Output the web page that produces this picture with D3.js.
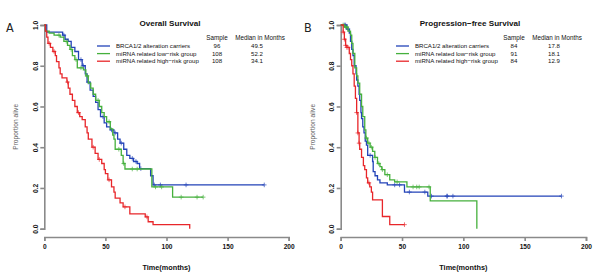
<!DOCTYPE html>
<html><head><meta charset="utf-8">
<script src="https://cdn.jsdelivr.net/npm/d3@7"></script>
<style>
body{margin:0;background:#fff;}
svg{display:block;font-family:"Liberation Sans",Arial,Helvetica,sans-serif;}
</style></head>
<body><svg id="c" width="600" height="277"></svg>
<script>
// ---------- DATA ----------
const xTicks = [0, 50, 100, 150, 200];
const yTicks = [0.0, 0.2, 0.4, 0.6, 0.8, 1.0];
const groupNames = ["BRCA1/2 alteration carriers", "miRNA related low\u2212risk group", "miRNA related high\u2212risk group"];
const groupColors = ["#2343b8", "#45b03c", "#e8262a"];

// Overall survival
const osTitle = "Overall Survival";
const osSamples = ["96", "108", "108"];
const osMedians = ["49.5", "52.2", "34.1"];
const osBlueT = [0,2,15,17,19.5,22,25,28,31,33.5,35,37.5,40,42,44,46,49,51,54,57,60,62,65,67.5,70,73,76,78,87,89];
const osBlueS = [1,0.965,0.95,0.93,0.92,0.89,0.87,0.83,0.80,0.76,0.72,0.68,0.65,0.62,0.585,0.55,0.52,0.50,0.485,0.47,0.44,0.42,0.39,0.36,0.345,0.33,0.32,0.295,0.26,0.215];
const osBlueEnd = 180;
const osBlueCens = [16,30,32,36,48,55,58,63,72,75,79,90,95,116,180];
const osGreenT = [0,1,4,8,13,16,19,21,23,25,27,32,34,36,38,40,42,45,47,49,51,54,56,57,58,63,64.5,66,88,105];
const osGreenS = [1,0.97,0.96,0.95,0.94,0.92,0.90,0.88,0.85,0.83,0.79,0.78,0.75,0.715,0.69,0.66,0.63,0.60,0.57,0.55,0.525,0.49,0.46,0.44,0.39,0.36,0.32,0.293,0.205,0.155];
const osGreenEnd = 130;
const osGreenCens = [12,18,22,26,30,35,44,53,61,65,72,76,91,96,112,125,130];
const osRedT = [0,1,2,3,5,7,9,10,12,13,14.5,18.5,19.6,21,23,25,27,29,31,33.5,35,36,39,41.6,44,47,49,50,52,55,57,58,62,64.5,70,82.6,85,89,119];
const osRedS = [1,0.97,0.94,0.91,0.89,0.87,0.85,0.82,0.79,0.76,0.74,0.72,0.69,0.66,0.63,0.60,0.57,0.55,0.535,0.50,0.47,0.44,0.40,0.37,0.34,0.32,0.29,0.27,0.24,0.205,0.18,0.15,0.127,0.107,0.073,0.058,0.034,0.02,0];
const osRedEnd = 119;
const osRedCens = [4,8,19,28,40,45,53,66,84];

// Progression-free survival
const pfsTitle = "Progression\u2212free Survival";
const pfsSamples = ["84", "91", "84"];
const pfsMedians = ["17.8", "18.1", "12.9"];
const pfsBlueT = [0,5,7,8,9,10,11,12.5,13,14,15,15.5,16.5,17,18,19,20,21,22,26,26.5,28,30,32,38,52,71];
const pfsBlueS = [1,0.98,0.96,0.92,0.88,0.85,0.80,0.76,0.73,0.70,0.66,0.63,0.57,0.54,0.50,0.47,0.43,0.41,0.36,0.33,0.28,0.26,0.24,0.225,0.215,0.18,0.16];
const pfsBlueEnd = 180;
const pfsBlueCens = [3,4,6,24,44,48,56,68.6,74,86.5,87,91.5,180];
const pfsGreenT = [0,3,6,8,9,10,11.5,13,14,15.5,17,18,19.6,20.5,22,24,26,27.8,30,32,33.5,36,40,44,54,73,111];
const pfsGreenS = [1,0.99,0.97,0.95,0.91,0.86,0.79,0.75,0.715,0.66,0.60,0.55,0.485,0.445,0.42,0.40,0.38,0.35,0.32,0.305,0.29,0.265,0.24,0.23,0.205,0.137,0];
const pfsGreenEnd = 111;
const pfsGreenCens = [2,4,5,21,23,25,28,31,34,38,46,59,62,64,72];
const pfsRedT = [0,2,3,4,5,7,8,9,10,11,12,13,14,15,15.5,17,18.5,19.6,21,22,23.7,25,26,34,40];
const pfsRedS = [1,0.965,0.93,0.90,0.89,0.86,0.83,0.80,0.76,0.70,0.64,0.57,0.47,0.42,0.39,0.35,0.31,0.29,0.25,0.225,0.205,0.18,0.142,0.06,0.02];
const pfsRedEnd = 52;
const pfsRedCens = [2,3,4,5,6,13,14,15,23,52];

// ---------- DRAW ----------
const svg = d3.select("#c");
const axisGray = "#8a8a8a";

function drawPanel(cfg) {
  const x = d3.scaleLinear().domain([0, 200]).range([cfg.x0, cfg.x1]);
  const y = d3.scaleLinear().domain([0, 1]).range([228.7, 25]);
  const g = svg.append("g");

  // panel letter
  g.append("text").attr("x", cfg.letterX).attr("y", 32).attr("font-size", 12.5)
    .attr("font-family", "DejaVu Sans Condensed, DejaVu Sans, sans-serif").attr("fill", "#222").text(cfg.letter);

  // x axis
  const xa = g.append("g").attr("transform", "translate(0,237)")
    .call(d3.axisBottom(x).tickValues(xTicks).tickSize(4).tickPadding(3).tickFormat(d3.format("d")));
  xa.select(".domain").attr("stroke", axisGray).attr("stroke-width", 1.6);
  xa.selectAll(".tick line").attr("stroke", axisGray).attr("stroke-width", 1.6);
  xa.selectAll(".tick text").attr("font-size", 6.6).attr("font-weight", "bold").attr("fill", "#111")
    .attr("font-family", "Liberation Sans, Arial, sans-serif");

  // y axis
  const ya = g.append("g").attr("transform", `translate(${cfg.x0},0)`)
    .call(d3.axisLeft(y).tickValues(yTicks).tickSize(4).tickFormat(d3.format(".1f")));
  ya.select(".domain").attr("stroke", axisGray).attr("stroke-width", 1.6);
  ya.selectAll(".tick line").attr("stroke", axisGray).attr("stroke-width", 1.6);
  ya.selectAll(".tick text").attr("font-size", 6.6).attr("font-weight", "bold").attr("fill", "#111")
    .attr("font-family", "Liberation Sans, Arial, sans-serif")
    .attr("text-anchor", "middle").attr("dy", null).attr("x", null)
    .attr("transform", "translate(-9,0) rotate(-90)").attr("dy", "0.35em");

  // axis titles
  g.append("text").attr("x", (x(0) + x(200)) / 2).attr("y", 269.5).attr("text-anchor", "middle")
    .attr("font-size", 7.3).attr("font-weight", "bold").attr("fill", "#111").text("Time(months)");
  g.append("text").attr("transform", `translate(${cfg.x0 - 26},${y(0.5)}) rotate(-90)`)
    .attr("text-anchor", "middle").attr("font-size", 6.6).attr("fill", "#666").text("Proportion alive");

  // title
  g.append("text").attr("x", cfg.titleX).attr("y", 26).attr("text-anchor", "middle")
    .attr("font-size", 8.1).attr("font-weight", "bold").attr("fill", "#111").text(cfg.title);

  // curves
  cfg.curves.forEach((c, i) => {
    const pts = [];
    for (let k = 0; k < c.t.length; k++) {
      if (k > 0) pts.push([c.t[k], c.s[k - 1]]);
      pts.push([c.t[k], c.s[k]]);
    }
    pts.push([c.end, c.s[c.s.length - 1]]);
    g.append("path").attr("d", d3.line().x(d => x(d[0])).y(d => y(d[1]))(pts))
      .attr("fill", "none").attr("stroke", groupColors[i]).attr("stroke-width", 1.3);
    const sAt = t => { let v = 1; for (let k = 0; k < c.t.length; k++) if (c.t[k] <= t) v = c.s[k]; return v; };
    c.cens.forEach(t => {
      const cx = x(t), cy = y(sAt(t));
      g.append("path").attr("d", `M${cx - 2.3},${cy}H${cx + 2.3}M${cx},${cy - 2.3}V${cy + 2.3}`)
        .attr("stroke", groupColors[i]).attr("stroke-width", 0.9).attr("opacity", 0.75);
    });
  });

  // legend
  const lg = g.append("g");
  lg.append("text").attr("x", cfg.sampleX).attr("y", 40.3).attr("text-anchor", "middle")
    .attr("font-size", 6.3).attr("fill", "#111").text("Sample");
  lg.append("text").attr("x", cfg.medX).attr("y", 40.3).attr("text-anchor", "middle")
    .attr("font-size", 6.3).attr("fill", "#111").text("Median in Months");
  groupNames.forEach((n, i) => {
    const yy = 46 + i * 7.6;
    lg.append("line").attr("x1", cfg.legX).attr("x2", cfg.legX + 13).attr("y1", yy).attr("y2", yy)
      .attr("stroke", groupColors[i]).attr("stroke-width", 1.3);
    lg.append("text").attr("x", cfg.legX + 19).attr("y", yy + 2.2).attr("font-size", 6.1).attr("fill", "#111").text(n);
    lg.append("text").attr("x", cfg.sampleX).attr("y", yy + 2.2).attr("text-anchor", "middle")
      .attr("font-size", 6.1).attr("fill", "#111").text(cfg.samples[i]);
    lg.append("text").attr("x", cfg.medX - 3).attr("y", yy + 2.2).attr("text-anchor", "middle")
      .attr("font-size", 6.1).attr("fill", "#111").text(cfg.medians[i]);
  });
}

drawPanel({
  letter: "A", letterX: 6, x0: 44.3, x1: 288.7, title: osTitle, titleX: 170,
  legX: 97, sampleX: 217, medX: 260, samples: osSamples, medians: osMedians,
  curves: [
    {t: osBlueT, s: osBlueS, end: osBlueEnd, cens: osBlueCens},
    {t: osGreenT, s: osGreenS, end: osGreenEnd, cens: osGreenCens},
    {t: osRedT, s: osRedS, end: osRedEnd, cens: osRedCens}
  ]
});
drawPanel({
  letter: "B", letterX: 304, x0: 340.7, x1: 586, title: pfsTitle, titleX: 470,
  legX: 396, sampleX: 514, medX: 557, samples: pfsSamples, medians: pfsMedians,
  curves: [
    {t: pfsBlueT, s: pfsBlueS, end: pfsBlueEnd, cens: pfsBlueCens},
    {t: pfsGreenT, s: pfsGreenS, end: pfsGreenEnd, cens: pfsGreenCens},
    {t: pfsRedT, s: pfsRedS, end: pfsRedEnd, cens: pfsRedCens}
  ]
});
</script></body></html>
